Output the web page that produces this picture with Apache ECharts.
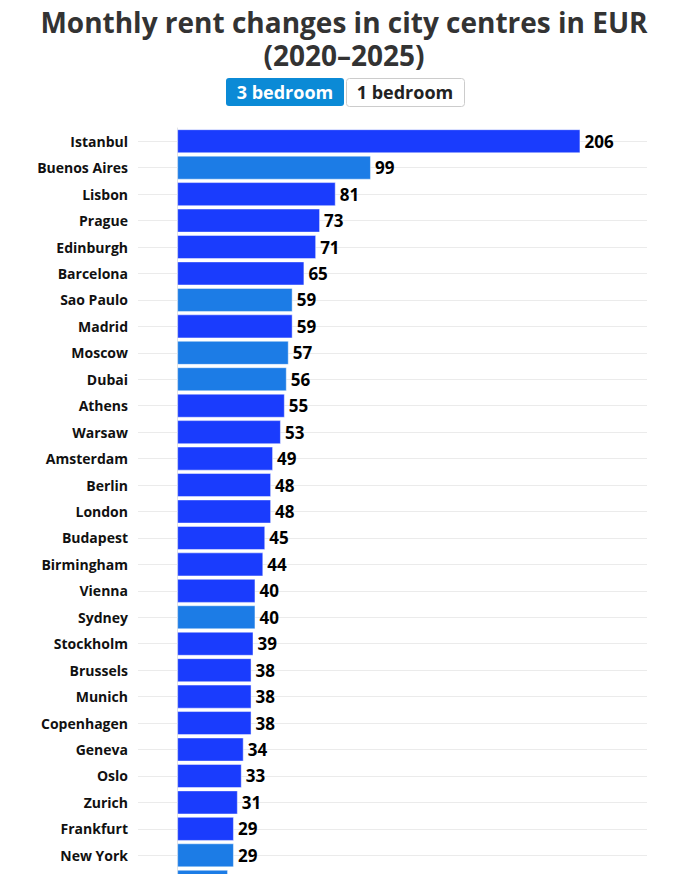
<!DOCTYPE html>
<html lang="en">
<head>
  <meta charset="UTF-8">
  <title>Monthly rent changes in city centres in EUR</title>
  <style>
    html, body { margin: 0; padding: 0; background: #fff; overflow: hidden; }
    #chart { width: 688px; height: 900px; }
  </style>
</head>
<body>
  <div id="chart"></div>
  <script src="https://cdn.jsdelivr.net/npm/echarts@6/dist/echarts.min.js"></script>
  <script type="text/javascript">
    // data
    var cities = ['Istanbul', 'Buenos Aires', 'Lisbon', 'Prague', 'Edinburgh', 'Barcelona', 'Sao Paulo',
      'Madrid', 'Moscow', 'Dubai', 'Athens', 'Warsaw', 'Amsterdam', 'Berlin', 'London', 'Budapest',
      'Birmingham', 'Vienna', 'Sydney', 'Stockholm', 'Brussels', 'Munich', 'Copenhagen', 'Geneva',
      'Oslo', 'Zurich', 'Frankfurt', 'New York', 'Toronto'];
    var rentChange = [206, 99, 81, 73, 71, 65, 59, 59, 57, 56, 55, 53, 49, 48, 48, 45,
      44, 40, 40, 39, 38, 38, 38, 34, 33, 31, 29, 29, 26];
    // 1 = outside Europe (lighter bar)
    var outsideEurope = [0, 1, 0, 0, 0, 0, 1, 0, 1, 1, 0, 0, 0, 0, 0, 0,
      0, 0, 1, 0, 0, 0, 0, 0, 0, 0, 0, 1, 1];
    var buttons = ['3 bedroom', '1 bedroom'];

    var font = "'Open Sans', 'Noto Sans', sans-serif";
    var myChart = echarts.init(document.getElementById('chart'), null, { renderer: 'svg' });

    var option = {
      animation: false,
      title: {
        text: 'Monthly rent changes in city centres in EUR\n(2020\u20132025)',
        left: 'center',
        top: 0,
        textStyle: {
          fontFamily: font,
          fontSize: 28,
          fontWeight: 'bold',
          color: '#333',
          lineHeight: 33
        }
      },
      graphic: [
        {
          type: 'rect', left: 226, top: 78,
          shape: { width: 118, height: 28, r: 3 },
          style: { fill: '#0b8ad6' }
        },
        {
          type: 'text', x: 285, y: 92,
          style: { text: buttons[0], fill: '#fff', font: 'bold 18px ' + font, align: 'center', verticalAlign: 'middle' }
        },
        {
          type: 'rect', left: 346, top: 78,
          shape: { width: 118, height: 28, r: 3 },
          style: { fill: '#fff', stroke: '#ccc', lineWidth: 1 }
        },
        {
          type: 'text', x: 405, y: 92,
          style: { text: buttons[1], fill: '#222', font: 'bold 18px ' + font, align: 'center', verticalAlign: 'middle' }
        }
      ],
      grid: {
        left: 138,
        right: 41,
        top: 128,
        bottom: 5,
        containLabel: false
      },
      xAxis: {
        type: 'value',
        min: -20,
        max: 240,
        show: false,
        splitLine: { show: false }
      },
      yAxis: [
        {
          type: 'category',
          data: cities,
          inverse: true,
          axisLine: { show: true, lineStyle: { color: '#e3e3e3' } },
          axisTick: { show: true, alignWithLabel: true, length: 6, lineStyle: { color: '#e6e6e6' } },
          axisLabel: {
            margin: 10,
            fontFamily: font,
            fontSize: 14,
            fontWeight: 'bold',
            color: '#111'
          },
          splitLine: { show: false }
        },
        {
          // gridlines through each category centre
          type: 'category',
          data: cities,
          inverse: true,
          position: 'left',
          axisLine: { show: false },
          axisLabel: { show: false },
          axisTick: { show: true, inside: true, alignWithLabel: true, length: 509, lineStyle: { color: '#ebebeb' } },
          splitLine: { show: false }
        }
      ],
      series: [
        {
          type: 'bar',
          yAxisIndex: 0,
          data: rentChange,
          barCategoryGap: '9%',
          itemStyle: {
            color: function (p) {
              return outsideEurope[p.dataIndex] ? '#1c7ce6' : '#1a3cfd';
            },
            borderColor: 'rgba(255,255,255,0.45)',
            borderWidth: 1
          },
          label: {
            show: true,
            position: 'right',
            distance: 4,
            fontFamily: font,
            fontSize: 17,
            fontWeight: 'bold',
            color: '#000'
          }
        }
      ]
    };
    option && myChart.setOption(option);
  </script>
</body>
</html>
